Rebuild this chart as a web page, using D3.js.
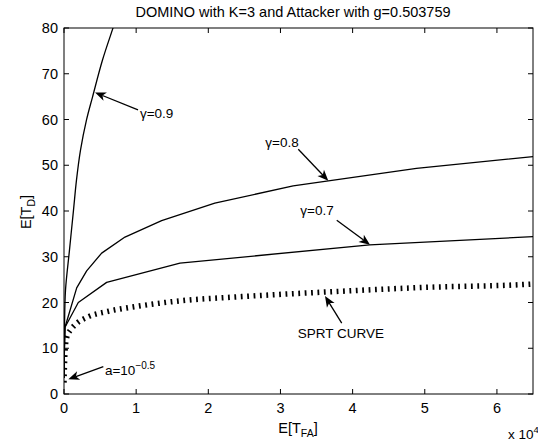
<!DOCTYPE html>
<html>
<head>
<meta charset="utf-8">
<script src="https://cdn.jsdelivr.net/npm/d3@7"></script>
<style>
  body { margin: 0; background: #fff; }
  svg { display: block; }
  text { font-family: "Liberation Sans", Arial, Helvetica, sans-serif; fill: #000; }
</style>
</head>
<body>
<svg id="chart" width="538" height="442"></svg>
<script>
// ---- data ----
const xTicks = [0, 10000, 20000, 30000, 40000, 50000, 60000];
const xTickLabels = ["0", "1", "2", "3", "4", "5", "6"];
const yTicks = [0, 10, 20, 30, 40, 50, 60, 70, 80];

const gamma09 = [[0, 3.5], [40, 10], [70, 14.6], [208, 22.7], [762, 31.5], [1317, 40.2], [1733, 46.8], [2287, 53.3], [3119, 59.9], [3950, 64.9], [5336, 73.0], [6833, 80.2], [7300, 82.5]];
const gamma08 = [[0, 3.5], [60, 10], [140, 14.6], [1760, 23.2], [3140, 26.9], [5220, 30.8], [8450, 34.3], [13530, 37.9], [20900, 41.7], [31760, 45.5], [48850, 49.3], [65000, 51.9]];
const gamma07 = [[0, 3.5], [60, 10], [140, 14.6], [1980, 20.0], [5910, 24.4], [16070, 28.6], [42380, 32.6], [65000, 34.4]];
const sprt = [[0, 2.5], [60, 6], [150, 9.5], [400, 12.5], [900, 14.0], [1520, 15.1], [3370, 16.9], [5910, 18.0], [10290, 19.2], [16300, 20.4], [23700, 21.2], [36400, 22.3], [50000, 23.3], [64500, 24.0], [65000, 24.05]];

// annotations: [label, labelX, labelY, tailX, tailY, tipX, tipY, anchor] in data units
const annotations = [
  ["γ=0.9", 10530, 61.3, 10260, 62.1, 4300, 65.9, "start"],
  ["γ=0.8", 30210, 55.1, 32470, 53.5, 36630, 46.6, "middle"],
  ["γ=0.7", 35070, 40.2, 37800, 38.0, 42410, 32.6, "middle"],
  ["SPRT CURVE", 38390, 13.3, 38490, 15.5, 36170, 21.4, "middle"],
  ["a=10", 5680, 5.2, 5450, 6.0, 600, 3.2, "start"]
];

// ---- layout ----
const svg = d3.select("#chart");
const L = 64, R = 533, T = 28, B = 394;
const x = d3.scaleLinear().domain([0, 65000]).range([L, R]);
const y = d3.scaleLinear().domain([0, 80]).range([B, T]);

svg.append("defs").append("clipPath").attr("id", "clip")
  .append("rect").attr("x", L).attr("y", T).attr("width", R - L).attr("height", B - T);

// title
svg.append("text").attr("x", 293).attr("y", 17).attr("text-anchor", "middle")
  .attr("font-size", 14.5).text("DOMINO with K=3 and Attacker with g=0.503759");

// curves
const line = d3.line().x(d => x(d[0])).y(d => y(d[1]));
const g = svg.append("g").attr("clip-path", "url(#clip)");
g.append("path").attr("d", d3.line().x(d => x(d[0])).y(d => y(d[1])).curve(d3.curveCatmullRom)(gamma09))
  .attr("fill", "none").attr("stroke", "#000").attr("stroke-width", 1.3);
[gamma08, gamma07].forEach(s => {
  g.append("path").attr("d", line(s)).attr("fill", "none")
    .attr("stroke", "#000").attr("stroke-width", 1.3).attr("stroke-linejoin", "round");
});
g.append("path").attr("d", d3.line().x(d => x(d[0])).y(d => y(d[1])).curve(d3.curveMonotoneX)(sprt)).attr("fill", "none")
  .attr("stroke", "#000").attr("stroke-width", 5.5)
  .attr("stroke-dasharray", "1.8,4.6").attr("stroke-linecap", "butt");

// axes box with inward ticks
const ax = svg.append("g").attr("stroke", "#000").attr("stroke-width", 1).attr("fill", "none");
ax.append("rect").attr("x", L).attr("y", T).attr("width", R - L).attr("height", B - T);
const tl = 5;
xTicks.forEach(t => {
  ax.append("line").attr("x1", x(t)).attr("x2", x(t)).attr("y1", B).attr("y2", B - tl);
  ax.append("line").attr("x1", x(t)).attr("x2", x(t)).attr("y1", T).attr("y2", T + tl);
});
yTicks.forEach(t => {
  ax.append("line").attr("x1", L).attr("x2", L + tl).attr("y1", y(t)).attr("y2", y(t));
  ax.append("line").attr("x1", R).attr("x2", R - tl).attr("y1", y(t)).attr("y2", y(t));
});

// tick labels
xTicks.forEach((t, i) => {
  svg.append("text").attr("x", x(t)).attr("y", 413).attr("text-anchor", "middle")
    .attr("font-size", 14.5).text(xTickLabels[i]);
});
yTicks.forEach(t => {
  svg.append("text").attr("x", L - 6).attr("y", y(t) + 5).attr("text-anchor", "end")
    .attr("font-size", 14.5).text(t);
});

// axis labels
const xl = svg.append("text").attr("x", 298).attr("y", 433).attr("text-anchor", "middle").attr("font-size", 14.5);
xl.append("tspan").text("E[T");
xl.append("tspan").attr("font-size", 10.5).attr("dy", 4).text("FA");
xl.append("tspan").attr("dy", -4).text("]");

const yl = svg.append("text").attr("transform", "translate(31,212) rotate(-90)").attr("text-anchor", "middle").attr("font-size", 14.5);
yl.append("tspan").text("E[T");
yl.append("tspan").attr("font-size", 10.5).attr("dy", 4).text("D");
yl.append("tspan").attr("dy", -4).text("]");

const mult = svg.append("text").attr("x", 508).attr("y", 439).attr("font-size", 13.5);
mult.append("tspan").text("x 10");
mult.append("tspan").attr("font-size", 9.5).attr("dy", -6).text("4");

// annotations
function arrow(x1, y1, x2, y2) {
  const a = svg.append("g");
  const ang = Math.atan2(y2 - y1, x2 - x1);
  const len = 11, w = 4.5, back = 8;
  const ux = Math.cos(ang), uy = Math.sin(ang);
  const bx = x2 - ux * len, by = y2 - uy * len;
  const nx = x2 - ux * back, ny = y2 - uy * back;
  a.append("line").attr("x1", x1).attr("y1", y1).attr("x2", nx).attr("y2", ny)
    .attr("stroke", "#000").attr("stroke-width", 1.3);
  const p = [[x2, y2], [bx - uy * w, by + ux * w], [nx, ny], [bx + uy * w, by - ux * w]];
  a.append("path").attr("d", "M" + p.map(q => q.join(",")).join("L") + "Z").attr("fill", "#000");
}
annotations.forEach(([lab, lx, ly, tx, ty, px, py, anchor]) => {
  arrow(x(tx), y(ty), x(px), y(py));
  const t = svg.append("text").attr("x", x(lx)).attr("y", y(ly)).attr("dy", "0.35em")
    .attr("text-anchor", anchor).attr("font-size", 13.5);
  t.append("tspan").text(lab);
  if (lab === "a=10") {
    t.append("tspan").attr("font-size", 10).attr("dy", -6).text("−0.5");
  }
});
</script>
</body>
</html>
